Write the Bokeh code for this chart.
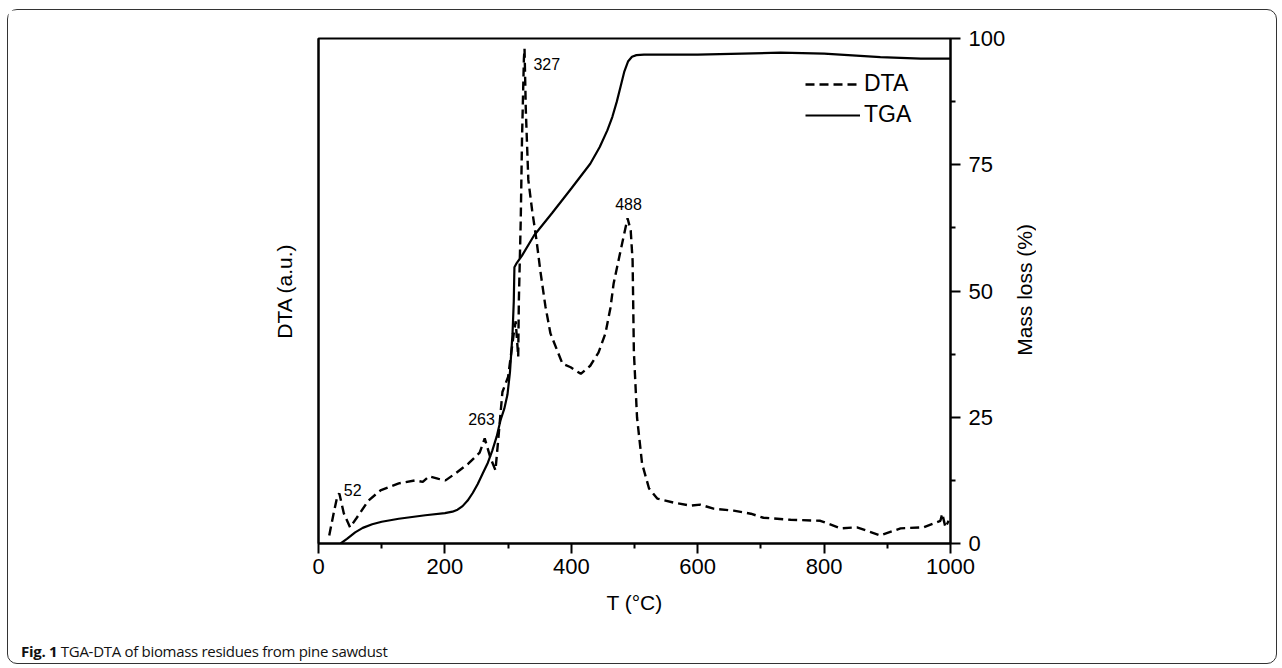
from bokeh.plotting import figure
from bokeh.models import Range1d, LinearAxis, FixedTicker, Label, Legend, LegendItem, Div
from bokeh.layouts import column, row
from bokeh.embed import file_html
from bokeh.resources import INLINE

# ---- data ----
tga_t = [35, 45, 58, 70, 85, 100, 127, 169, 200, 212, 220, 228, 236, 244, 252, 260, 268, 275,
         282, 288, 294, 299, 303, 307, 309, 310, 313, 322, 341, 370, 400, 430, 445, 457, 465,
         472, 478, 484, 490, 496, 503, 515, 600, 731, 800, 889, 953, 1000]
tga_m = [0.0, 0.9, 2.2, 3.1, 3.8, 4.3, 4.9, 5.6, 6.0, 6.3, 6.7, 7.4, 8.5, 10.0, 11.8, 13.9,
         16.0, 18.4, 21.2, 24.4, 26.7, 29.5, 34.0, 41.6, 48.0, 54.7, 55.4, 57.0, 61.0, 65.5,
         70.3, 75.2, 78.5, 81.8, 84.5, 87.5, 90.5, 93.5, 95.5, 96.4, 96.7, 96.8, 96.8, 97.2,
         97.0, 96.3, 96.0, 96.0]

dta_t = [17, 24, 30, 33, 40, 50, 60, 79, 98, 127, 153, 165, 175, 190, 201, 217, 237, 255, 263,
         272, 280, 284, 291, 300, 309, 312, 316, 317, 320, 322, 325, 326, 328, 332, 338, 345,
         351, 359, 367, 386, 399, 415, 430, 443, 454, 462, 467, 478, 489, 494, 497, 499, 504,
         512, 523, 536, 562, 589, 604, 625, 657, 684, 704, 747, 794, 826, 852, 889, 921, 957,
         984, 987, 992, 997]
dta_v = [1.6, 6.0, 9.5, 9.9, 6.0, 3.2, 5.0, 8.5, 10.5, 11.9, 12.5, 12.2, 13.3, 12.8, 12.5, 13.9,
         15.8, 18.0, 20.8, 17.0, 14.5, 20.0, 30.0, 33.0, 41.6, 44.0, 37.0, 48.0, 64.0, 80.0, 96.0,
         98.0, 86.0, 72.0, 66.0, 60.0, 54.0, 47.0, 41.6, 35.6, 34.9, 33.6, 35.2, 37.8, 41.6, 46.7,
         51.5, 58.0, 64.4, 62.0, 56.0, 38.0, 25.0, 15.8, 10.9, 8.9, 8.1, 7.5, 7.7, 6.9, 6.5, 5.9,
         5.1, 4.7, 4.5, 3.0, 3.2, 1.6, 3.0, 3.2, 4.5, 5.9, 3.2, 4.5]

peak_t = [327, 488, 263, 52]
peak_pos_t = [340, 490.5, 258, 54]
peak_pos_v = [95.0, 67.3, 24.6, 10.5]

x_ticks = [0, 200, 400, 600, 800, 1000]
x_minor = [100, 300, 500, 700, 900]
y_ticks = [0, 25, 50, 75, 100]
y_minor = [12.5, 37.5, 62.5, 87.5]

FONT = "Liberation Sans"

p = figure(width=1000, height=612, output_backend="svg", toolbar_location=None,
           x_range=Range1d(0, 1000), y_range=Range1d(0, 100),
           y_axis_location="right",
           min_border_left=310, min_border_right=58, min_border_top=28, min_border_bottom=79,
           background_fill_color="white", border_fill_color="white", margin=0)
p.extra_y_ranges = {"dta": Range1d(0, 100)}
p.grid.visible = False
p.outline_line_color = "black"
p.outline_line_width = 2

# x axis
xa = p.xaxis[0]
xa.ticker = FixedTicker(ticks=x_ticks, minor_ticks=x_minor)
xa.major_tick_out = 10
xa.major_tick_in = 0
xa.minor_tick_out = 5
xa.minor_tick_in = 0
xa.axis_line_width = 2
xa.major_tick_line_width = 2
xa.minor_tick_line_width = 2
xa.major_label_text_font = FONT
xa.major_label_text_font_size = "22px"
xa.major_label_text_color = "black"
xa.major_label_standoff = 5
xa.axis_label = "T (°C)"
xa.axis_label_text_font = FONT
xa.axis_label_text_font_size = "21px"
xa.axis_label_text_font_style = "normal"
xa.axis_label_text_color = "black"
xa.axis_label_standoff = 14

# right axis (mass loss); its title is drawn beside it, reading upwards
ya = p.yaxis[0]
ya.ticker = FixedTicker(ticks=y_ticks, minor_ticks=y_minor)
ya.major_tick_out = 10
ya.major_tick_in = 0
ya.minor_tick_out = 5
ya.minor_tick_in = 0
ya.axis_line_width = 2
ya.major_tick_line_width = 2
ya.minor_tick_line_width = 2
ya.major_label_text_font = FONT
ya.major_label_text_font_size = "22px"
ya.major_label_text_color = "black"
ya.major_label_standoff = 8

# left axis (DTA, arbitrary units)
la = LinearAxis(y_range_name="dta", ticker=FixedTicker(ticks=[]), axis_label="DTA (a.u.)")
la.axis_line_width = 2
la.major_tick_out = 0
la.minor_tick_out = 0
la.major_label_text_font_size = "0px"
la.axis_label_text_font = FONT
la.axis_label_text_font_size = "21px"
la.axis_label_text_font_style = "normal"
la.axis_label_text_color = "black"
la.axis_label_standoff = 23
p.add_layout(la, "left")

r_dta = p.line(dta_t, dta_v, y_range_name="dta", line_color="black", line_width=2.4,
               line_dash="9 5")
r_tga = p.line(tga_t, tga_m, line_color="black", line_width=2.2)

legend = Legend(items=[LegendItem(label="DTA", renderers=[r_dta]),
                       LegendItem(label="TGA", renderers=[r_tga])],
                location=(487, 415))
legend.label_text_font = FONT
legend.label_text_font_size = "23px"
legend.label_text_color = "black"
legend.glyph_width = 55
legend.glyph_height = 22
legend.label_height = 22
legend.spacing = 4
legend.padding = 0
legend.margin = 0
legend.label_standoff = 4
legend.border_line_alpha = 0
legend.background_fill_alpha = 0
p.add_layout(legend)

aligns = ["left", "center", "center", "center"]
for t, x, y, a in zip(peak_t, peak_pos_t, peak_pos_v, aligns):
    p.add_layout(Label(x=x, y=y, y_range_name="dta", text=str(t), text_font=FONT,
                       text_font_size="16px", text_align=a, text_baseline="middle",
                       text_color="black"))

mass_label = Div(text="<div style=\"height:560px;width:34px;display:flex;align-items:center;"
                      "justify-content:center\"><span style=\"writing-mode:vertical-rl;"
                      "transform:rotate(180deg);font-family:'Liberation Sans';font-size:21px;"
                      "color:black;white-space:nowrap\">Mass loss (%)</span></div>",
                 width=34, height=612, margin=0)

caption = Div(text="<div style=\"padding:19px 0 0 13px;font-family:'Open Sans';"
                   "font-size:15px;letter-spacing:-0.3px;color:#111;white-space:nowrap\">"
                   "<b>Fig. 1</b> TGA-DTA of biomass residues from pine sawdust</div>",
              width=1270, height=43, margin=0)

top = row(p, mass_label, spacing=0, margin=0)
layout = column(top, caption, spacing=0, width=1270, height=655, sizing_mode="fixed",
                styles={"border": "1.5px solid #333", "border-radius": "10px",
                        "margin-left": "7px", "margin-top": "9px"})

open("out.html", "w").write(file_html(layout, INLINE))
